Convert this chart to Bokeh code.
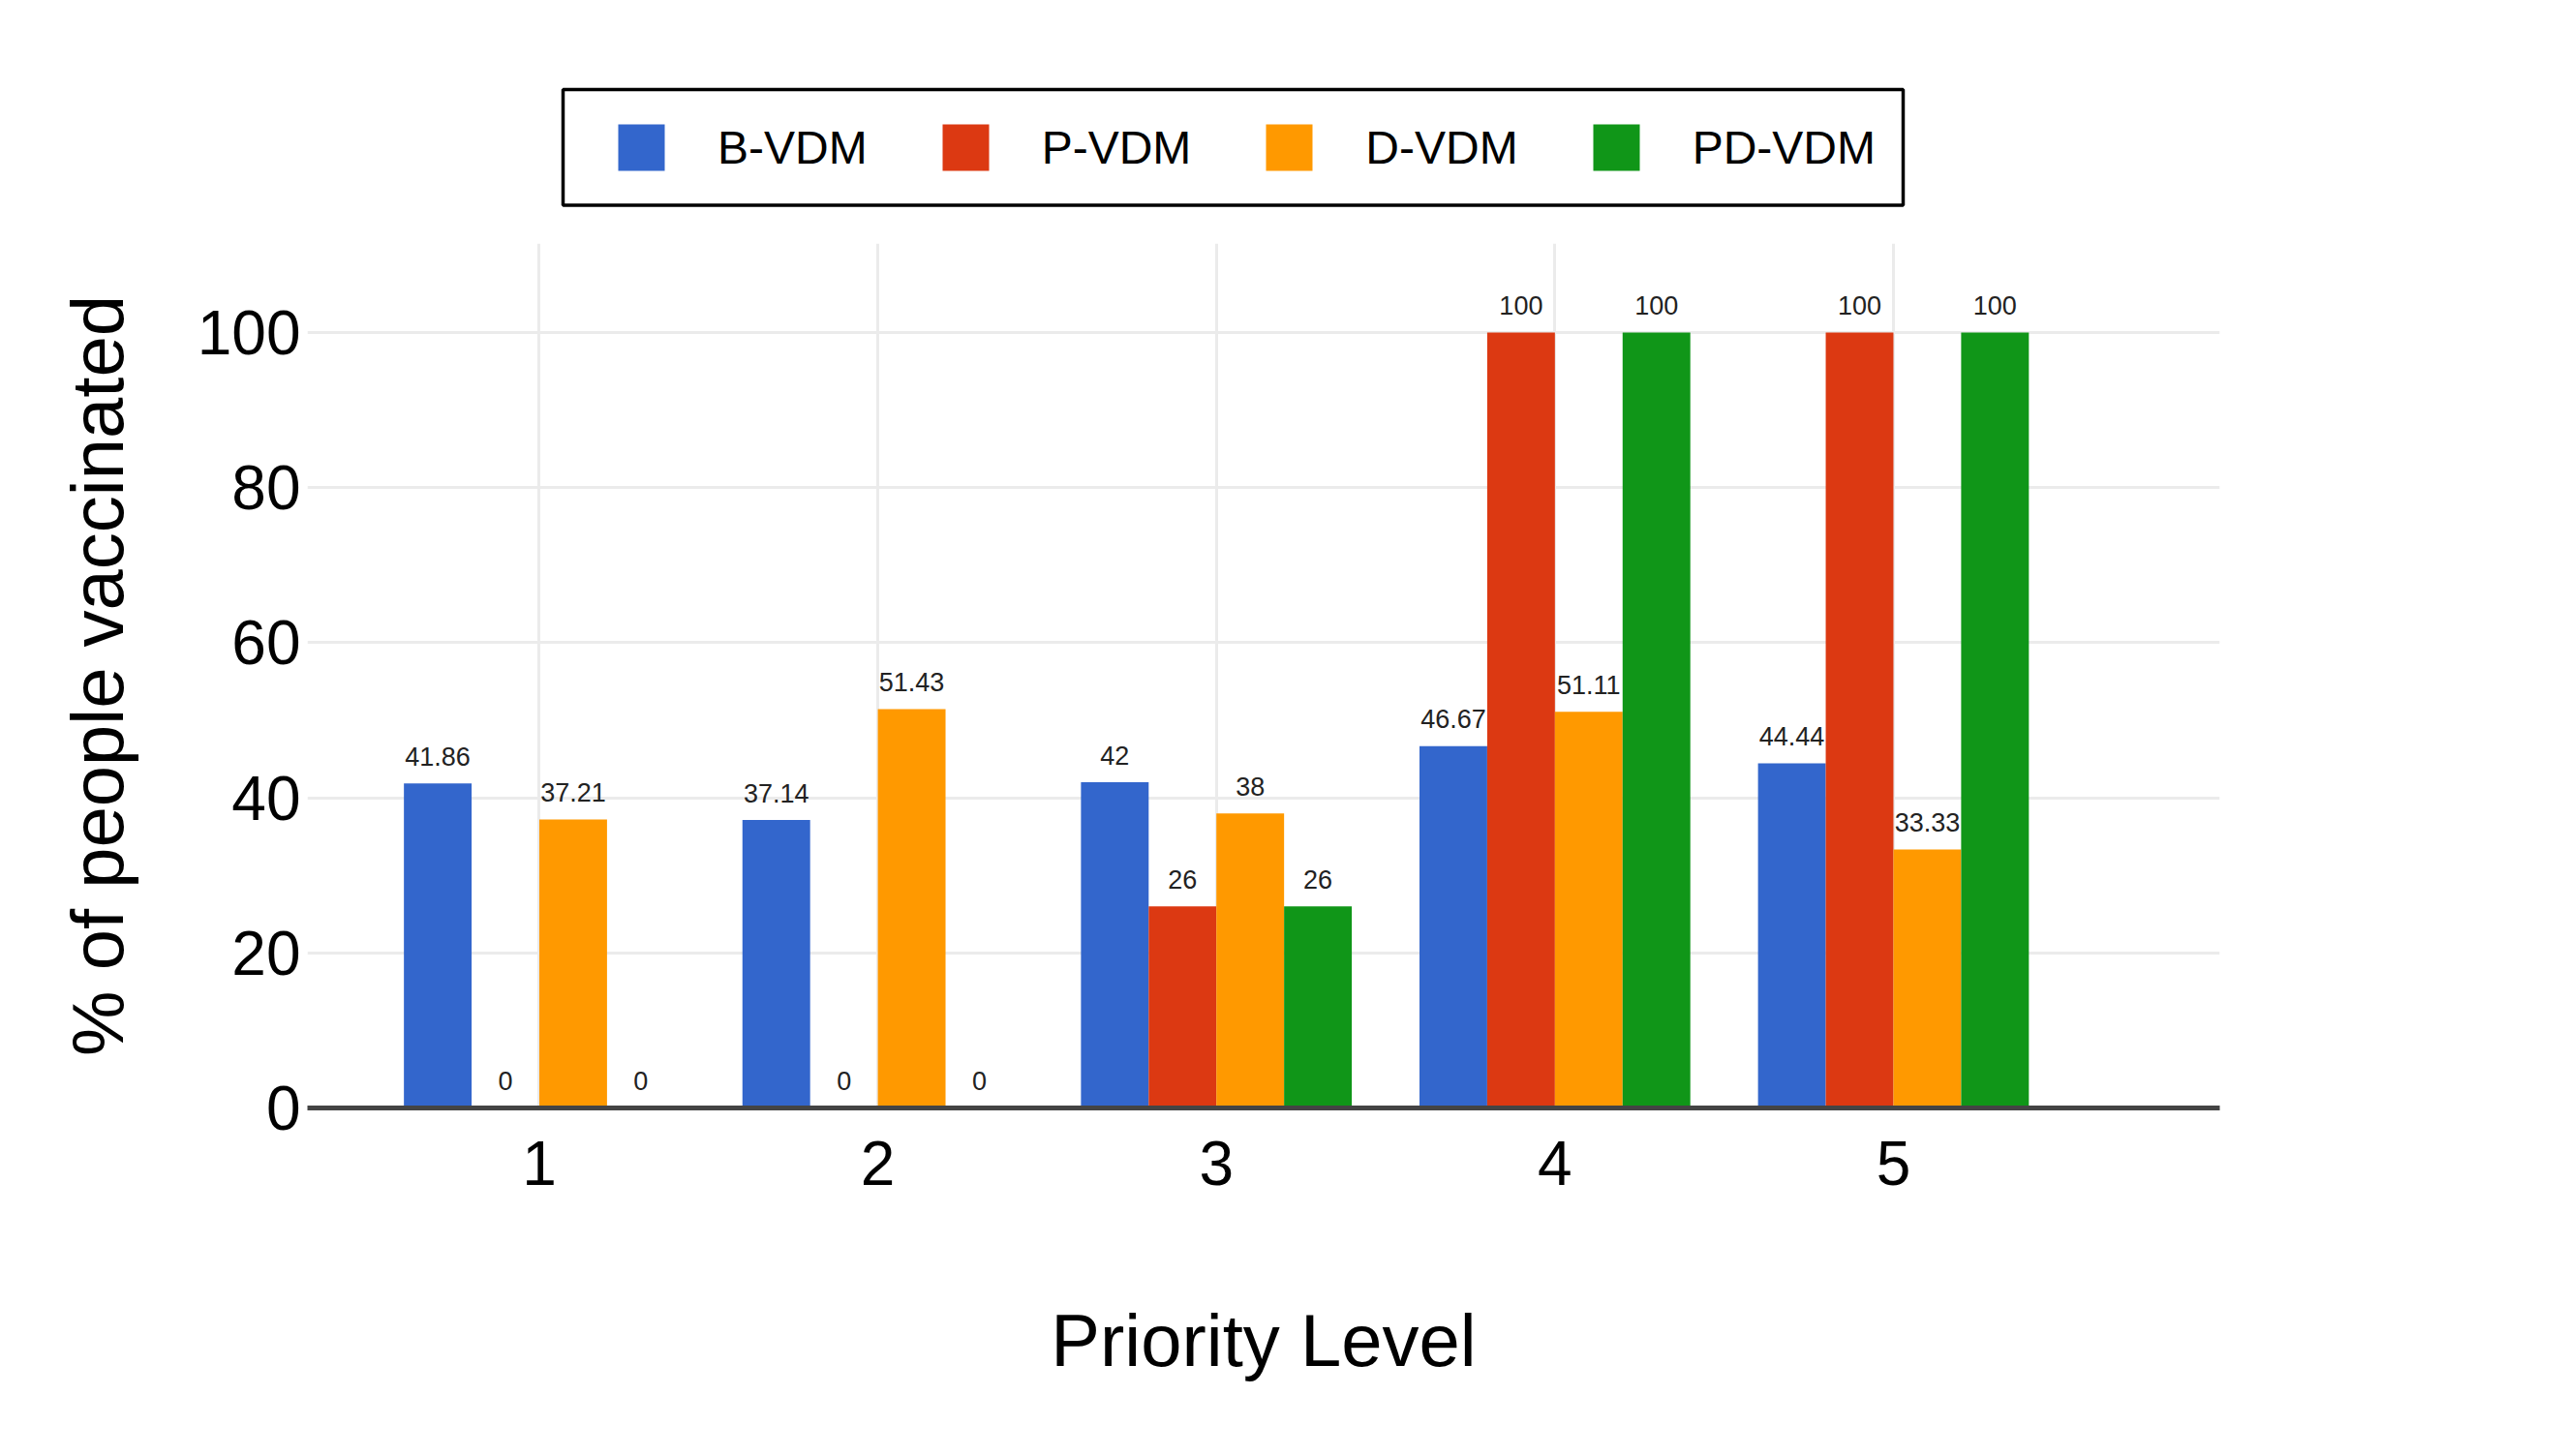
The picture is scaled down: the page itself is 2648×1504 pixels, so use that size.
from bokeh.plotting import figure
from bokeh.layouts import column
from bokeh.models import (ColumnDataSource, FixedTicker, Legend, LegendItem, Range1d,
                          BoxAnnotation)
from bokeh.transform import dodge
from bokeh.core.properties import value
from bokeh.embed import file_html
from bokeh.resources import INLINE

# ---- data ----
levels = [1, 2, 3, 4, 5]
series_names = ["B-VDM", "P-VDM", "D-VDM", "PD-VDM"]
b_vdm = [41.86, 37.14, 42, 46.67, 44.44]
p_vdm = [0, 0, 26, 100, 100]
d_vdm = [37.21, 51.43, 38, 51.11, 33.33]
pd_vdm = [0, 0, 26, 100, 100]
y_ticks = [0, 20, 40, 60, 80, 100]
x_title = "Priority Level"
y_title = "% of people vaccinated"

# ---- style ----
colors = ["#3366cc", "#dc3912", "#ff9900", "#109618"]
offsets = [-0.3, -0.1, 0.1, 0.3]
FONT = "Liberation Sans"
W = 2630
LEFT, RIGHT = 317, 338
TOP_H = 251
MAIN_H = 1235

series = [b_vdm, p_vdm, d_vdm, pd_vdm]
data = {"level": levels}
for i, vals in enumerate(series):
    data[f"s{i}"] = vals
    data[f"l{i}"] = [f"{v:g}" for v in vals]
src = ColumnDataSource(data)

# ---- main chart ----
p = figure(width=W, height=MAIN_H, output_backend="svg", toolbar_location=None,
           x_range=Range1d(0.315, 5.964), y_range=Range1d(0, 111.5),
           min_border_left=LEFT, min_border_right=RIGHT,
           min_border_top=0, min_border_bottom=342)
p.outline_line_color = None
p.background_fill_color = "white"
p.border_fill_color = "white"

for i, (vals, color, off) in enumerate(zip(series, colors, offsets)):
    p.vbar(x=dodge("level", off), top=f"s{i}", width=0.2, source=src,
           fill_color=color, line_color=None)
    p.text(x=dodge("level", off), y=f"s{i}", text=f"l{i}", source=src,
           text_align="center", text_baseline="alphabetic", y_offset=-28,
           text_font=value(FONT), text_font_size="27px", text_color="#222222")

p.xgrid.ticker = FixedTicker(ticks=levels)
p.ygrid.ticker = FixedTicker(ticks=y_ticks)
for g in (p.xgrid, p.ygrid):
    g.grid_line_color = "#ebebeb"
    g.grid_line_width = 3

p.xaxis.ticker = FixedTicker(ticks=levels)
p.yaxis.ticker = FixedTicker(ticks=y_ticks)
for ax in (p.xaxis, p.yaxis):
    ax.major_tick_out = 0
    ax.major_tick_in = 0
    ax.minor_tick_out = 0
    ax.minor_tick_in = 0
    ax.major_label_text_font = FONT
    ax.major_label_text_font_size = "64px"
    ax.major_label_text_color = "#000000"
    ax.axis_label_text_font = FONT
    ax.axis_label_text_font_size = "76px"
    ax.axis_label_text_font_style = "normal"
    ax.axis_label_text_color = "#000000"

p.xaxis.axis_label = x_title
p.yaxis.axis_label = y_title
p.xaxis.axis_line_color = "#444444"
p.xaxis.axis_line_width = 5
p.xaxis.major_label_standoff = 34
p.xaxis.axis_label_standoff = 115
p.yaxis.axis_line_color = None
p.yaxis.major_label_standoff = 7
p.yaxis.axis_label_standoff = 58

# ---- legend strip above the chart (screen-pixel coordinates) ----
lg = figure(width=W, height=TOP_H, output_backend="svg", toolbar_location=None,
            x_range=Range1d(LEFT, W - RIGHT), y_range=Range1d(TOP_H, 0),
            x_axis_type=None, y_axis_type=None,
            min_border_left=LEFT, min_border_right=RIGHT,
            min_border_top=0, min_border_bottom=0)
lg.outline_line_color = None
lg.xgrid.visible = False
lg.ygrid.visible = False
swatches = [lg.vbar(x=[-1000], top=[0], width=1, fill_color=c, line_color=None)
            for c in colors]

lg.add_layout(BoxAnnotation(left=581, right=1965, top=92, bottom=211.5,
                            fill_color="white", fill_alpha=1.0,
                            line_color="#000000", line_width=3.5, line_alpha=1.0,
                            level="underlay"))

legend = Legend(
    items=[LegendItem(label=n, renderers=[r]) for n, r in zip(series_names, swatches)],
    orientation="horizontal", location=(632 - LEFT, TOP_H - 182),
    glyph_width=60, glyph_height=60, label_standoff=49, spacing=71, padding=0,
    label_text_font=FONT, label_text_font_size="48px", label_text_color="#000000",
    border_line_color=None, background_fill_alpha=0.0, margin=0,
)
lg.add_layout(legend, "center")

layout = column(lg, p, spacing=0)
open("out.html", "w").write(file_html(layout, INLINE))
